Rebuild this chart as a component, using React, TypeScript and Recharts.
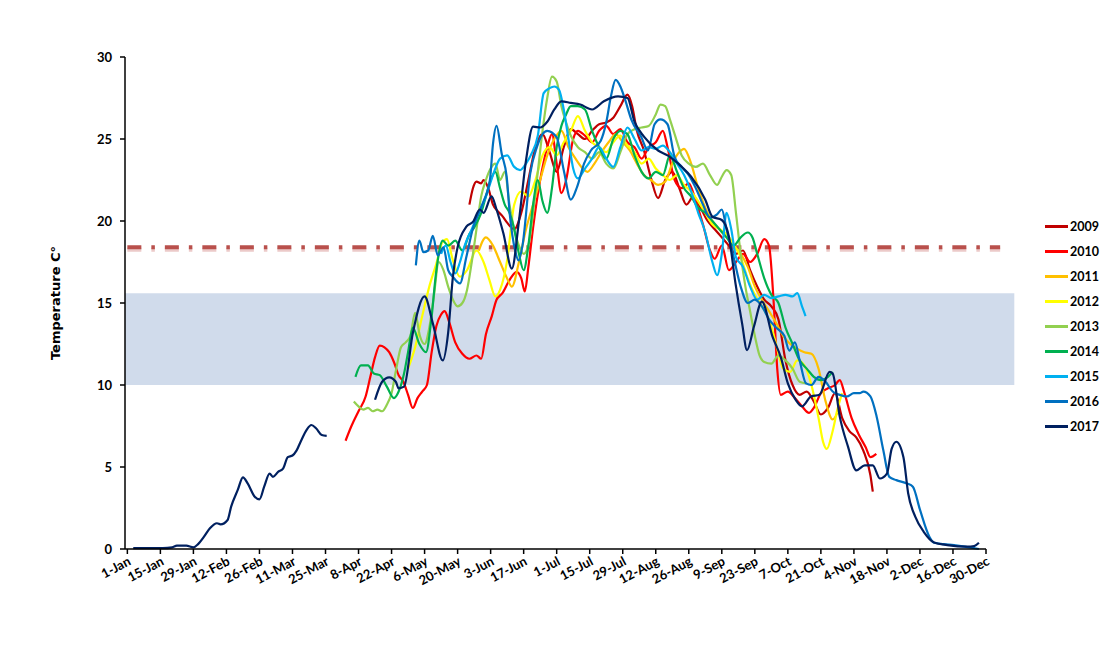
import { LineChart, Line, XAxis, YAxis, ReferenceArea, ReferenceLine, Legend } from "recharts";

type Pt = [number, number | null];

// day of year -> label (ticks every 14 days)
const tickDays = [1, 15, 29, 43, 57, 71, 85, 99, 113, 127, 141, 155, 169, 183, 197, 211, 225, 239, 253, 267, 281, 295, 309, 323, 337, 351, 365];
const tickLabels = [
  "1-Jan", "15-Jan", "29-Jan", "12-Feb", "26-Feb", "11-Mar", "25-Mar", "8-Apr", "22-Apr",
  "6-May", "20-May", "3-Jun", "17-Jun", "1-Jul", "15-Jul", "29-Jul", "12-Aug", "26-Aug",
  "9-Sep", "23-Sep", "7-Oct", "21-Oct", "4-Nov", "18-Nov", "2-Dec", "16-Dec", "30-Dec",
];
const yTicks = [0, 5, 10, 15, 20, 25, 30];

const t2009: Pt[] = [
  [146, 21.0], [147.5, 22.0], [149, 22.4], [151, 22.3], [152, 22.5], [154, 22.0], [156, 21.0], [158, 20.6],
  [160, 20.3], [162, 19.9], [165, 19.5], [168, 20.5], [171, 22.5], [174, 24.5], [177, 25.3], [180, 24.2],
  [183, 23.0], [186, 24.5], [189, 25.6], [192, 25.3], [195, 25.0], [198, 25.5], [201, 25.9], [204, 26.0],
  [207, 26.3], [210, 27.0], [213, 27.7], [215, 27.0], [217, 25.5], [220, 24.3], [223, 22.6], [226, 21.4],
  [229, 22.5], [232, 23.0], [235, 22.0], [238, 21.0], [241, 21.5], [244, 20.8], [247, 20.0], [250, 19.5],
  [253, 19.0], [256, 18.5], [259, 18.0], [262, 18.2], [265, 17.0], [268, 16.0], [271, 15.2], [274, 14.8],
  [277, 14.0], [280, 11.5], [283, 10.0], [286, 9.4], [289, 9.6], [292, 9.0], [295, 8.2], [298, 8.6],
  [301, 9.5], [304, 8.0], [307, 7.2], [310, 6.8], [313, 6.0], [316, 4.5], [317, 3.5],
];

const t2010: Pt[] = [
  [93.5, 6.6], [96, 7.5], [99, 8.4], [102, 9.3], [104, 10.5], [106, 11.7], [108, 12.4], [110, 12.3],
  [112, 12.0], [114, 11.4], [116, 10.6], [118, 10.2], [120, 9.4], [122, 8.6], [124, 9.2], [126, 9.6],
  [128, 10.0], [130, 12.0], [132, 13.6], [134, 14.3], [135.5, 14.5], [137.5, 13.8], [140, 12.6], [143, 11.9],
  [146, 11.6], [149, 11.8], [151, 11.6], [153, 13.1], [155.5, 14.2], [157.5, 15.2], [160, 15.6], [163, 16.4],
  [166, 16.9], [168, 16.5], [169.5, 15.7], [171, 17.2], [173, 19.6], [176, 22.5], [179, 24.5], [181, 25.3],
  [183, 23.5], [185, 21.7], [187, 22.5], [190, 25.0], [192, 25.5], [195, 25.2], [198, 24.8], [201, 25.5],
  [204, 25.8], [207, 25.3], [210, 25.6], [213, 24.8], [216, 24.5], [219, 23.8], [222, 24.5], [225, 24.8],
  [228, 25.5], [230, 24.5], [233, 22.5], [236, 22.0], [239, 22.3], [242, 21.2], [245, 19.8], [248, 18.2],
  [250, 17.7], [253, 18.5], [256, 17.0], [259, 17.5], [262, 18.0], [265, 17.5], [268, 18.0], [271, 18.9],
  [273, 18.5], [275, 15.0], [276.5, 11.0], [278, 9.4], [281, 9.6], [284, 9.2], [287, 8.7], [290, 8.3],
  [292, 8.6], [295, 9.5], [298, 9.8], [301, 10.0], [303, 10.3], [305, 9.5], [308, 8.0], [311, 7.0],
  [314, 6.2], [316, 5.6], [318.5, 5.8],
];

const t2011: Pt[] = [
  [150, 18.2], [153, 19.0], [156, 18.5], [159, 17.5], [162, 16.5], [164, 16.0], [167, 17.5], [170, 19.5],
  [173, 21.0], [176, 22.5], [179, 24.0], [182, 25.0], [185, 25.5], [188, 24.5], [191, 23.8], [194, 23.2],
  [196, 23.0], [199, 23.5], [202, 24.2], [205, 24.8], [208, 25.3], [211, 24.8], [214, 24.3], [217, 23.5],
  [220, 22.8], [223, 22.5], [226, 22.2], [229, 22.4], [232, 23.5], [235, 24.2], [237, 24.4], [240, 23.5],
  [243, 22.0], [246, 20.8], [249, 20.0], [252, 19.5], [255, 19.0], [258, 18.5], [261, 18.0], [264, 17.2],
  [267, 16.0], [270, 15.2], [273, 14.5], [276, 13.8], [279, 13.0], [282, 12.5], [285, 12.2], [288, 12.0],
  [291, 11.9], [294, 11.0], [297, 9.0], [300, 7.9], [302, 8.3],
];

const t2012: Pt[] = [
  [120, 11.0], [123, 12.3], [126, 14.2], [129, 16.0], [132, 17.4], [134.5, 18.7], [136.5, 18.9], [139, 17.6],
  [142, 16.6], [145, 17.0], [149, 18.2], [152, 17.5], [154.5, 16.4], [157, 15.4], [159, 15.8], [162, 17.6],
  [165, 21.0], [168, 21.8], [171, 21.5], [174, 22.5], [177, 24.0], [180, 24.5], [183, 24.0], [186, 24.8],
  [189, 25.5], [192, 26.4], [195, 25.5], [198, 24.8], [201, 24.5], [204, 24.2], [207, 24.8], [210, 25.2],
  [213, 24.6], [216, 24.2], [219, 23.5], [222, 23.8], [225, 23.2], [228, 22.8], [231, 22.5], [234, 22.8],
  [237, 22.2], [240, 21.8], [243, 21.2], [246, 20.5], [249, 19.8], [252, 19.5], [255, 19.2], [258, 18.6],
  [261, 17.8], [264, 16.5], [267, 15.5], [270, 14.8], [273, 14.0], [276, 12.5], [279, 11.0], [282, 10.8],
  [285, 11.5], [288, 11.2], [291, 10.0], [294, 8.0], [296, 6.5], [297.5, 6.1], [300, 7.2], [302, 8.5],
  [304, 9.5],
];

const t2013: Pt[] = [
  [97, 9.0], [99, 8.7], [101, 8.5], [103, 8.6], [105, 8.4], [107, 8.5], [109, 8.4], [111, 8.8],
  [113, 9.5], [115, 11.0], [117, 12.3], [119, 12.6], [121, 13.0], [123, 14.4], [125, 13.0], [127, 12.5],
  [129, 13.5], [131, 15.5], [133, 17.5], [135, 17.0], [137, 16.0], [139, 15.2], [141, 14.8], [143, 15.0],
  [145, 15.8], [147, 17.5], [149, 19.5], [151, 21.5], [153, 22.5], [155, 23.2], [157, 23.5], [159, 22.5],
  [161, 23.0], [163, 21.0], [165, 19.5], [167, 18.5], [169, 18.0], [171, 18.5], [173, 20.5], [175, 23.0],
  [177, 25.5], [179, 27.5], [181, 28.8], [183, 28.5], [185, 27.0], [187, 26.0], [189, 25.2], [192, 24.5],
  [195, 24.2], [198, 23.8], [201, 24.2], [204, 23.5], [207, 23.2], [210, 24.2], [213, 25.3], [216, 25.6],
  [219, 25.7], [222, 25.8], [225, 26.5], [227, 27.1], [229, 27.0], [231, 26.2], [233, 25.3], [236, 24.0],
  [239, 23.5], [242, 23.3], [245, 23.5], [248, 22.8], [251, 22.2], [253, 22.7], [255, 23.1], [257, 22.8],
  [259, 20.5], [261, 18.0], [263, 16.0], [265, 14.5], [267, 13.0], [269, 11.8], [271, 11.4], [274, 11.3],
  [277, 11.8], [280, 11.5], [283, 11.0], [286, 10.2], [289, 10.1],
];

const t2014: Pt[] = [
  [97.7, 10.5], [100, 11.2], [103, 11.2], [105.5, 10.7], [108, 10.6], [111, 9.9], [114, 9.2], [116, 9.6],
  [118.3, 10.7], [120, 12.0], [122, 13.5], [124.8, 12.5], [127.6, 12.0], [129.7, 13.8], [132, 17.0], [134.7, 18.8],
  [137, 18.5], [140, 18.8], [143, 18.2], [146, 19.2], [148, 19.6], [151, 20.5], [153, 21.5], [155, 22.5],
  [157, 23.0], [159, 22.0], [161, 21.0], [163, 20.5], [165, 19.5], [167, 18.0], [169, 17.0], [171, 18.5],
  [173, 21.0], [175, 22.5], [177, 21.2], [179, 20.5], [181, 22.0], [183, 24.5], [185, 25.8], [187, 26.5],
  [189, 27.0], [192, 27.0], [195, 26.8], [198, 25.5], [201, 24.5], [204, 23.8], [207, 25.0], [210, 25.5],
  [213, 25.3], [216, 24.0], [219, 23.0], [222, 22.6], [225, 23.0], [228, 22.8], [231, 24.0], [234, 23.0],
  [237, 22.0], [240, 21.5], [243, 20.8], [246, 20.5], [249, 20.0], [252, 19.5], [255, 19.0], [258, 18.5],
  [261, 19.0], [264, 19.3], [266, 19.0], [268, 18.0], [271, 16.5], [274, 15.5], [277, 15.0], [280, 13.5],
  [283, 12.5], [286, 11.5], [289, 11.0], [292, 10.5], [295, 10.3], [298, 10.5], [300, 10.8],
];

const t2015: Pt[] = [
  [134, 18.0], [136, 18.5], [138, 17.5], [140, 16.8], [142, 17.5], [144, 18.5], [147, 19.5], [150, 20.5],
  [153, 21.5], [156, 22.8], [159, 23.8], [162, 24.0], [165, 23.3], [167.5, 23.1], [170, 23.5], [172, 24.0],
  [175, 25.2], [177.5, 27.8], [180, 28.1], [182, 28.2], [184, 28.0], [186, 26.8], [188, 25.0], [190, 23.2],
  [192, 22.6], [195, 23.2], [198, 23.8], [201, 24.5], [204, 23.8], [207, 23.3], [210, 24.5], [213, 25.7],
  [216, 25.0], [219, 24.3], [222, 24.5], [225, 24.4], [228, 24.6], [231, 24.2], [234, 23.5], [237, 22.8],
  [240, 21.8], [243, 20.5], [246, 19.3], [249, 17.5], [251, 16.7], [253, 18.0], [255, 20.5], [257, 19.5],
  [259, 17.8], [262, 17.2], [265, 16.0], [268, 15.2], [271, 15.5], [274, 15.3], [277, 15.4], [280, 15.5],
  [283, 15.4], [285, 15.6], [287, 14.8], [288.5, 14.2],
];

const t2016: Pt[] = [
  [123.3, 17.3], [124.8, 18.8], [126.5, 18.1], [128.5, 18.2], [130.5, 19.1], [132.6, 17.9], [135, 18.4], [137, 17.0],
  [139, 16.6], [142, 16.2], [144.7, 17.8], [147.6, 19.6], [150, 20.5], [152, 21.2], [154.7, 22.5], [156, 24.7],
  [157.5, 25.8], [159.7, 24.1], [161.8, 22.7], [163.2, 20.3], [165.4, 18.2], [166.8, 17.6], [168.5, 18.5], [171.8, 22.9],
  [174.6, 24.5], [177, 25.3], [179, 25.5], [183, 25.1], [186, 23.1], [189, 21.3], [191.7, 22.1], [194.6, 23.5],
  [197.5, 24.3], [201.7, 24.9], [204, 26.0], [206, 27.6], [208, 28.6], [210, 28.2], [212, 27.4], [214.6, 26.2],
  [218.9, 25.1], [221.7, 24.3], [224.5, 25.9], [227, 26.2], [230, 25.9], [233, 23.9], [236, 23.3], [239, 22.8],
  [242, 22.0], [245, 21.0], [248, 20.2], [251, 20.4], [253, 20.7], [255, 19.5], [258, 17.8], [261, 16.0],
  [264, 15.0], [267, 15.2], [270, 14.8], [273, 14.0], [276, 13.5], [279.5, 13.0], [281.6, 12.1], [284, 12.6],
  [286, 11.5], [288.7, 10.1], [291, 10.0], [294, 10.5], [297, 10.2], [300, 9.6], [303, 9.4], [306, 9.3],
  [309, 9.5], [311.5, 9.5], [313, 9.6], [316, 9.3], [318.6, 8.1], [321.5, 6.0], [324, 4.4], [327, 4.2],
  [331.5, 4.0], [334, 3.8], [337, 2.4], [341, 0.75], [343, 0.38], [347, 0.3], [351.4, 0.24], [356, 0.15],
  [360, 0.05], [362, 0.0],
];

const t2017: Pt[] = [
  [3.5, 0.05], [10, 0.05], [16, 0.05], [20, 0.1], [22, 0.2], [26, 0.2], [29, 0.1], [31, 0.3],
  [33.5, 0.75], [36, 1.26], [39, 1.57], [40.5, 1.5], [43.5, 1.77], [45, 2.58], [47.8, 3.6], [50, 4.37],
  [52, 4.0], [55, 3.19], [57, 3.03], [59, 3.8], [61.3, 4.6], [62.7, 4.4], [64.9, 4.7], [67, 4.9],
  [69, 5.6], [71, 5.7], [72.7, 6.0], [74.8, 6.65], [77, 7.26], [79, 7.56], [81, 7.36], [83.4, 6.95],
  [85.5, 6.9], [95, null],
  [106, 9.1], [109, 10.2], [112, 10.47], [114.8, 10.2], [116, 9.8], [118.3, 9.9], [122, 13.15], [127, 15.4],
  [130.5, 13.76], [134.7, 11.5], [137, 13.2], [139, 16.6], [141, 18.4], [144.7, 19.65], [147.6, 19.96], [150.4, 20.7],
  [152, 20.5], [155.4, 21.5], [157.5, 20.7], [160.4, 19.25], [164, 17.1], [167, 20.0], [170, 23.7], [173, 25.75],
  [176, 25.7], [179, 26.05], [182, 26.8], [185, 27.3], [189, 27.2], [193, 27.1], [198, 26.8], [203, 27.3],
  [209, 27.6], [213, 27.5], [216, 26.06], [220, 25.14], [226, 24.3], [230, 24.0], [236, 23.3], [240, 22.7],
  [246, 21.3], [249, 20.26], [253, 20.06], [256, 19.05], [258.8, 16.2], [261.6, 13.76], [263.7, 12.13], [266.6, 13.55],
  [270, 15.08], [274.5, 12.95], [278, 11.7], [281, 10.1], [284.4, 9.08], [287, 8.7], [290.8, 9.3], [294.4, 9.4],
  [298.7, 10.8], [300, 10.7], [303, 8.07], [306.5, 6.24], [310, 4.8], [313.6, 5.1], [317, 5.1], [320, 4.3],
  [323, 4.6], [325, 6.1], [327, 6.54], [330, 5.6], [332, 3.4], [335, 1.97], [338.6, 1.05], [343, 0.4],
  [348.6, 0.24], [357, 0.14], [360, 0.18], [362, 0.38],
];

const years = ["2009", "2010", "2011", "2012", "2013", "2014", "2015", "2016", "2017"];
const colors = ["#C00000", "#FF0000", "#FFC000", "#FFFF00", "#92D050", "#00B050", "#00B0F0", "#0070C0", "#002060"];
const seriesData = [t2009, t2010, t2011, t2012, t2013, t2014, t2015, t2016, t2017];

const labelFor = (d: number) => tickLabels[tickDays.indexOf(d)] ?? "";

function YearLegend({ payload }: any) {
  return (
    <div>
      {(payload ?? []).map((p: any) => (
        <div key={p.value} style={{ display: "flex", alignItems: "center", height: 25, whiteSpace: "nowrap" }}>
          <span style={{ display: "inline-block", width: 23, height: 2.5, background: p.color, marginRight: 2 }} />
          <span style={{ fontFamily: "Lato", fontWeight: 700, fontSize: 12.5, color: "#000" }}>{p.value}</span>
        </div>
      ))}
    </div>
  );
}

export default function App() {
  return (
    <div style={{ position: "relative", width: 1100, height: 630 }}>
      <div
        style={{
          position: "absolute",
          left: -3,
          top: -5,
          width: 1100,
          height: 640,
          borderTop: "1px solid #bfbfbf",
          borderLeft: "1px solid #bfbfbf",
        }}
      />
      <LineChart width={1100} height={630} margin={{ top: 49, right: 122, bottom: 39, left: 47 }}>
        <ReferenceArea x1={0} x2={377} y1={10} y2={15.6} fill="#d0dbeb" fillOpacity={1} stroke="none" ifOverflow="visible" />
        <ReferenceLine
          segment={[{ x: 1, y: 18.25 }, { x: 371, y: 18.25 }]}
          stroke="#c0504d"
          strokeOpacity={0.3}
          strokeWidth={4}
          strokeDasharray="14 10 3.5 10"
          ifOverflow="visible"
        />
        <ReferenceLine
          segment={[{ x: 1, y: 18.4 }, { x: 371, y: 18.4 }]}
          stroke="#b9504c"
          strokeWidth={4}
          strokeDasharray="14 10 3.5 10"
          ifOverflow="visible"
        />
        <XAxis
          type="number"
          dataKey="day"
          domain={[0, 365]}
          ticks={tickDays}
          interval={0}
          tickFormatter={labelFor}
          angle={-28}
          height={50}
          stroke="#000"
          strokeWidth={1.5}
          tickSize={5}
          fontSize={13}
          tick={{ textAnchor: "end", fontSize: 13, fontWeight: 700, fontFamily: "Lato", fill: "#000" }}
          allowDataOverflow
        />
        <YAxis
          type="number"
          domain={[0, 30]}
          ticks={yTicks}
          interval={0}
          width={70}
          stroke="#000"
          strokeWidth={1.5}
          tickSize={5}
          tickMargin={8}
          fontSize={13}
          tick={{ fontSize: 13, fontWeight: 700, fontFamily: "Lato", fill: "#000" }}
          label={{
            value: "Temperature C°",
            angle: -90,
            position: "insideLeft",
            offset: 0,
            style: { textAnchor: "middle", fontSize: 13, fontWeight: 700, fontFamily: "DejaVu Sans", fill: "#000" },
          }}
        />
        <Legend
          layout="vertical"
          align="center"
          verticalAlign="middle"
          content={<YearLegend />}
          wrapperStyle={{ left: 1037, top: 206, width: 62 }}
        />
        {years.map((y, i) => (
          <Line
            key={y}
            name={y}
            data={seriesData[i].map(([d, v]) => ({ day: d, temp: v }))}
            dataKey="temp"
            type="monotone"
            stroke={colors[i]}
            strokeWidth={2.2}
            dot={false}
            activeDot={false}
            connectNulls={false}
            isAnimationActive={false}
          />
        ))}
      </LineChart>
    </div>
  );
}
